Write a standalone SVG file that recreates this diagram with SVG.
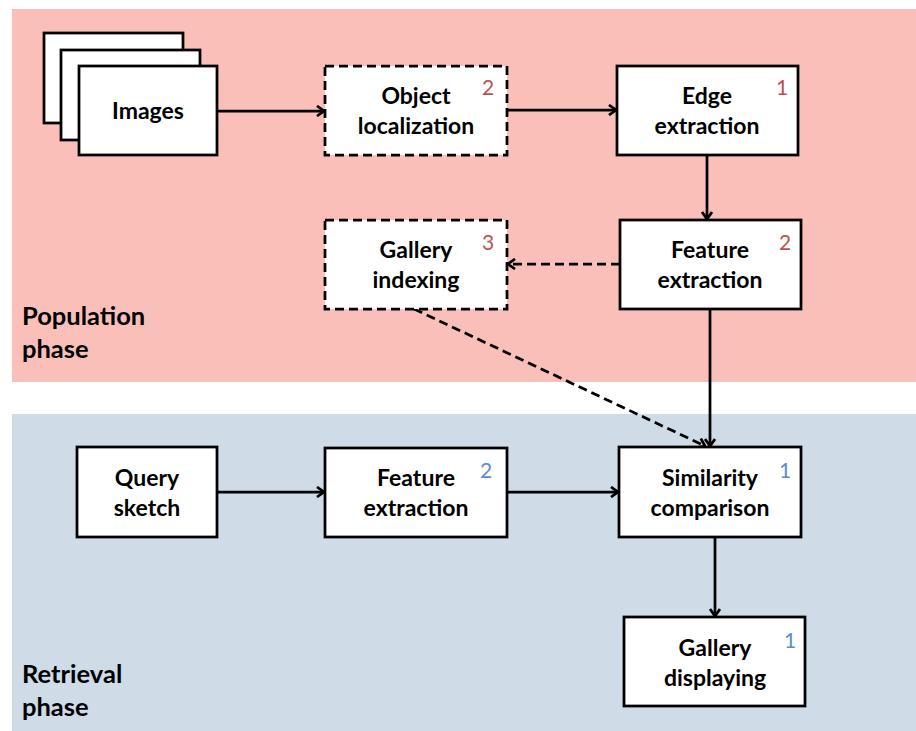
<svg xmlns="http://www.w3.org/2000/svg" width="916" height="731" viewBox="0 0 916 731">
  <style>
    .box { fill: #ffffff; stroke: #000000; stroke-width: 2.75; }
    .dashed { stroke-dasharray: 9 5; }
    .label { font-family: Lato, "Open Sans", "Liberation Sans", sans-serif; font-weight: bold; font-size: 23px; fill: #000000; text-anchor: middle; }
    .phase { font-family: Lato, "Open Sans", "Liberation Sans", sans-serif; font-weight: bold; font-size: 25.5px; fill: #000000; }
    .num { font-family: Lato, "Open Sans", "Liberation Sans", sans-serif; font-size: 21px; }
    .red { fill: #c0504d; }
    .blue { fill: #558ed5; }
    .edge { fill: none; stroke: #000000; stroke-width: 2.75; marker-end: url(#arrow); }
  </style>
  <defs>
    <marker id="arrow" viewBox="0 0 12 12" refX="11" refY="6" markerWidth="12" markerHeight="12" markerUnits="userSpaceOnUse" orient="auto">
      <path d="M4,1 L11,6 L4,11" fill="none" stroke="#000000" stroke-width="2.75"/>
    </marker>
  </defs>

  <!-- phase bands -->
  <rect x="12" y="9" width="904" height="373" fill="#fbbfba"/>
  <rect x="12" y="414" width="904" height="317" fill="#cfdbe6"/>
  <text class="phase" x="22" y="325">Population</text>
  <text class="phase" x="22" y="358">phase</text>
  <text class="phase" x="22" y="683">Retrieval</text>
  <text class="phase" x="22" y="716">phase</text>

  <!-- connectors -->
  <g id="connectors">
    <line class="edge" x1="217" y1="111" x2="324" y2="111"/>
    <line class="edge" x1="507" y1="110" x2="616" y2="110"/>
    <line class="edge" x1="707" y1="155" x2="707" y2="219"/>
    <line class="edge dashed" x1="620" y1="264" x2="508" y2="264"/>
    <line class="edge dashed" x1="414" y1="309" x2="705" y2="446"/>
    <line class="edge" x1="710" y1="308" x2="710" y2="446"/>
    <line class="edge" x1="217" y1="492" x2="324" y2="492"/>
    <line class="edge" x1="507" y1="492" x2="618" y2="492"/>
    <line class="edge" x1="715" y1="537" x2="715" y2="616"/>
  </g>

  <!-- population phase nodes -->
  <g id="images">
    <rect class="box" x="44" y="33" width="139" height="90"/>
    <rect class="box" x="61" y="50" width="139" height="90"/>
    <rect class="box" x="79" y="66" width="138" height="89"/>
    <text class="label" x="148" y="119">Images</text>
  </g>
  <g id="object-localization">
    <rect class="box dashed" x="325" y="66" width="182" height="89"/>
    <text class="label" x="416" y="104">Object</text>
    <text class="label" x="416" y="134">localization</text>
    <text class="num red" x="482" y="95">2</text>
  </g>
  <g id="edge-extraction">
    <rect class="box" x="617" y="66" width="181" height="89"/>
    <text class="label" x="707" y="104">Edge</text>
    <text class="label" x="707" y="134">extraction</text>
    <text class="num red" x="776" y="95">1</text>
  </g>
  <g id="feature-extraction-pop">
    <rect class="box" x="620" y="220" width="181" height="89"/>
    <text class="label" x="710" y="258">Feature</text>
    <text class="label" x="710" y="288">extraction</text>
    <text class="num red" x="779" y="250">2</text>
  </g>
  <g id="gallery-indexing">
    <rect class="box dashed" x="325" y="220" width="182" height="89"/>
    <text class="label" x="416" y="258">Gallery</text>
    <text class="label" x="416" y="288">indexing</text>
    <text class="num red" x="482" y="250">3</text>
  </g>

  <!-- retrieval phase nodes -->
  <g id="query-sketch">
    <rect class="box" x="77" y="447" width="140" height="90"/>
    <text class="label" x="147" y="486">Query</text>
    <text class="label" x="147" y="516">sketch</text>
  </g>
  <g id="feature-extraction-ret">
    <rect class="box" x="325" y="448" width="182" height="89"/>
    <text class="label" x="416" y="486">Feature</text>
    <text class="label" x="416" y="516">extraction</text>
    <text class="num blue" x="480" y="478">2</text>
  </g>
  <g id="similarity-comparison">
    <rect class="box" x="619" y="447" width="182" height="90"/>
    <text class="label" x="710" y="486">Similarity</text>
    <text class="label" x="710" y="516">comparison</text>
    <text class="num blue" x="779" y="478">1</text>
  </g>
  <g id="gallery-displaying">
    <rect class="box" x="624" y="617" width="181" height="89"/>
    <text class="label" x="715" y="656">Gallery</text>
    <text class="label" x="715" y="686">displaying</text>
    <text class="num blue" x="784" y="648">1</text>
  </g>
</svg>
